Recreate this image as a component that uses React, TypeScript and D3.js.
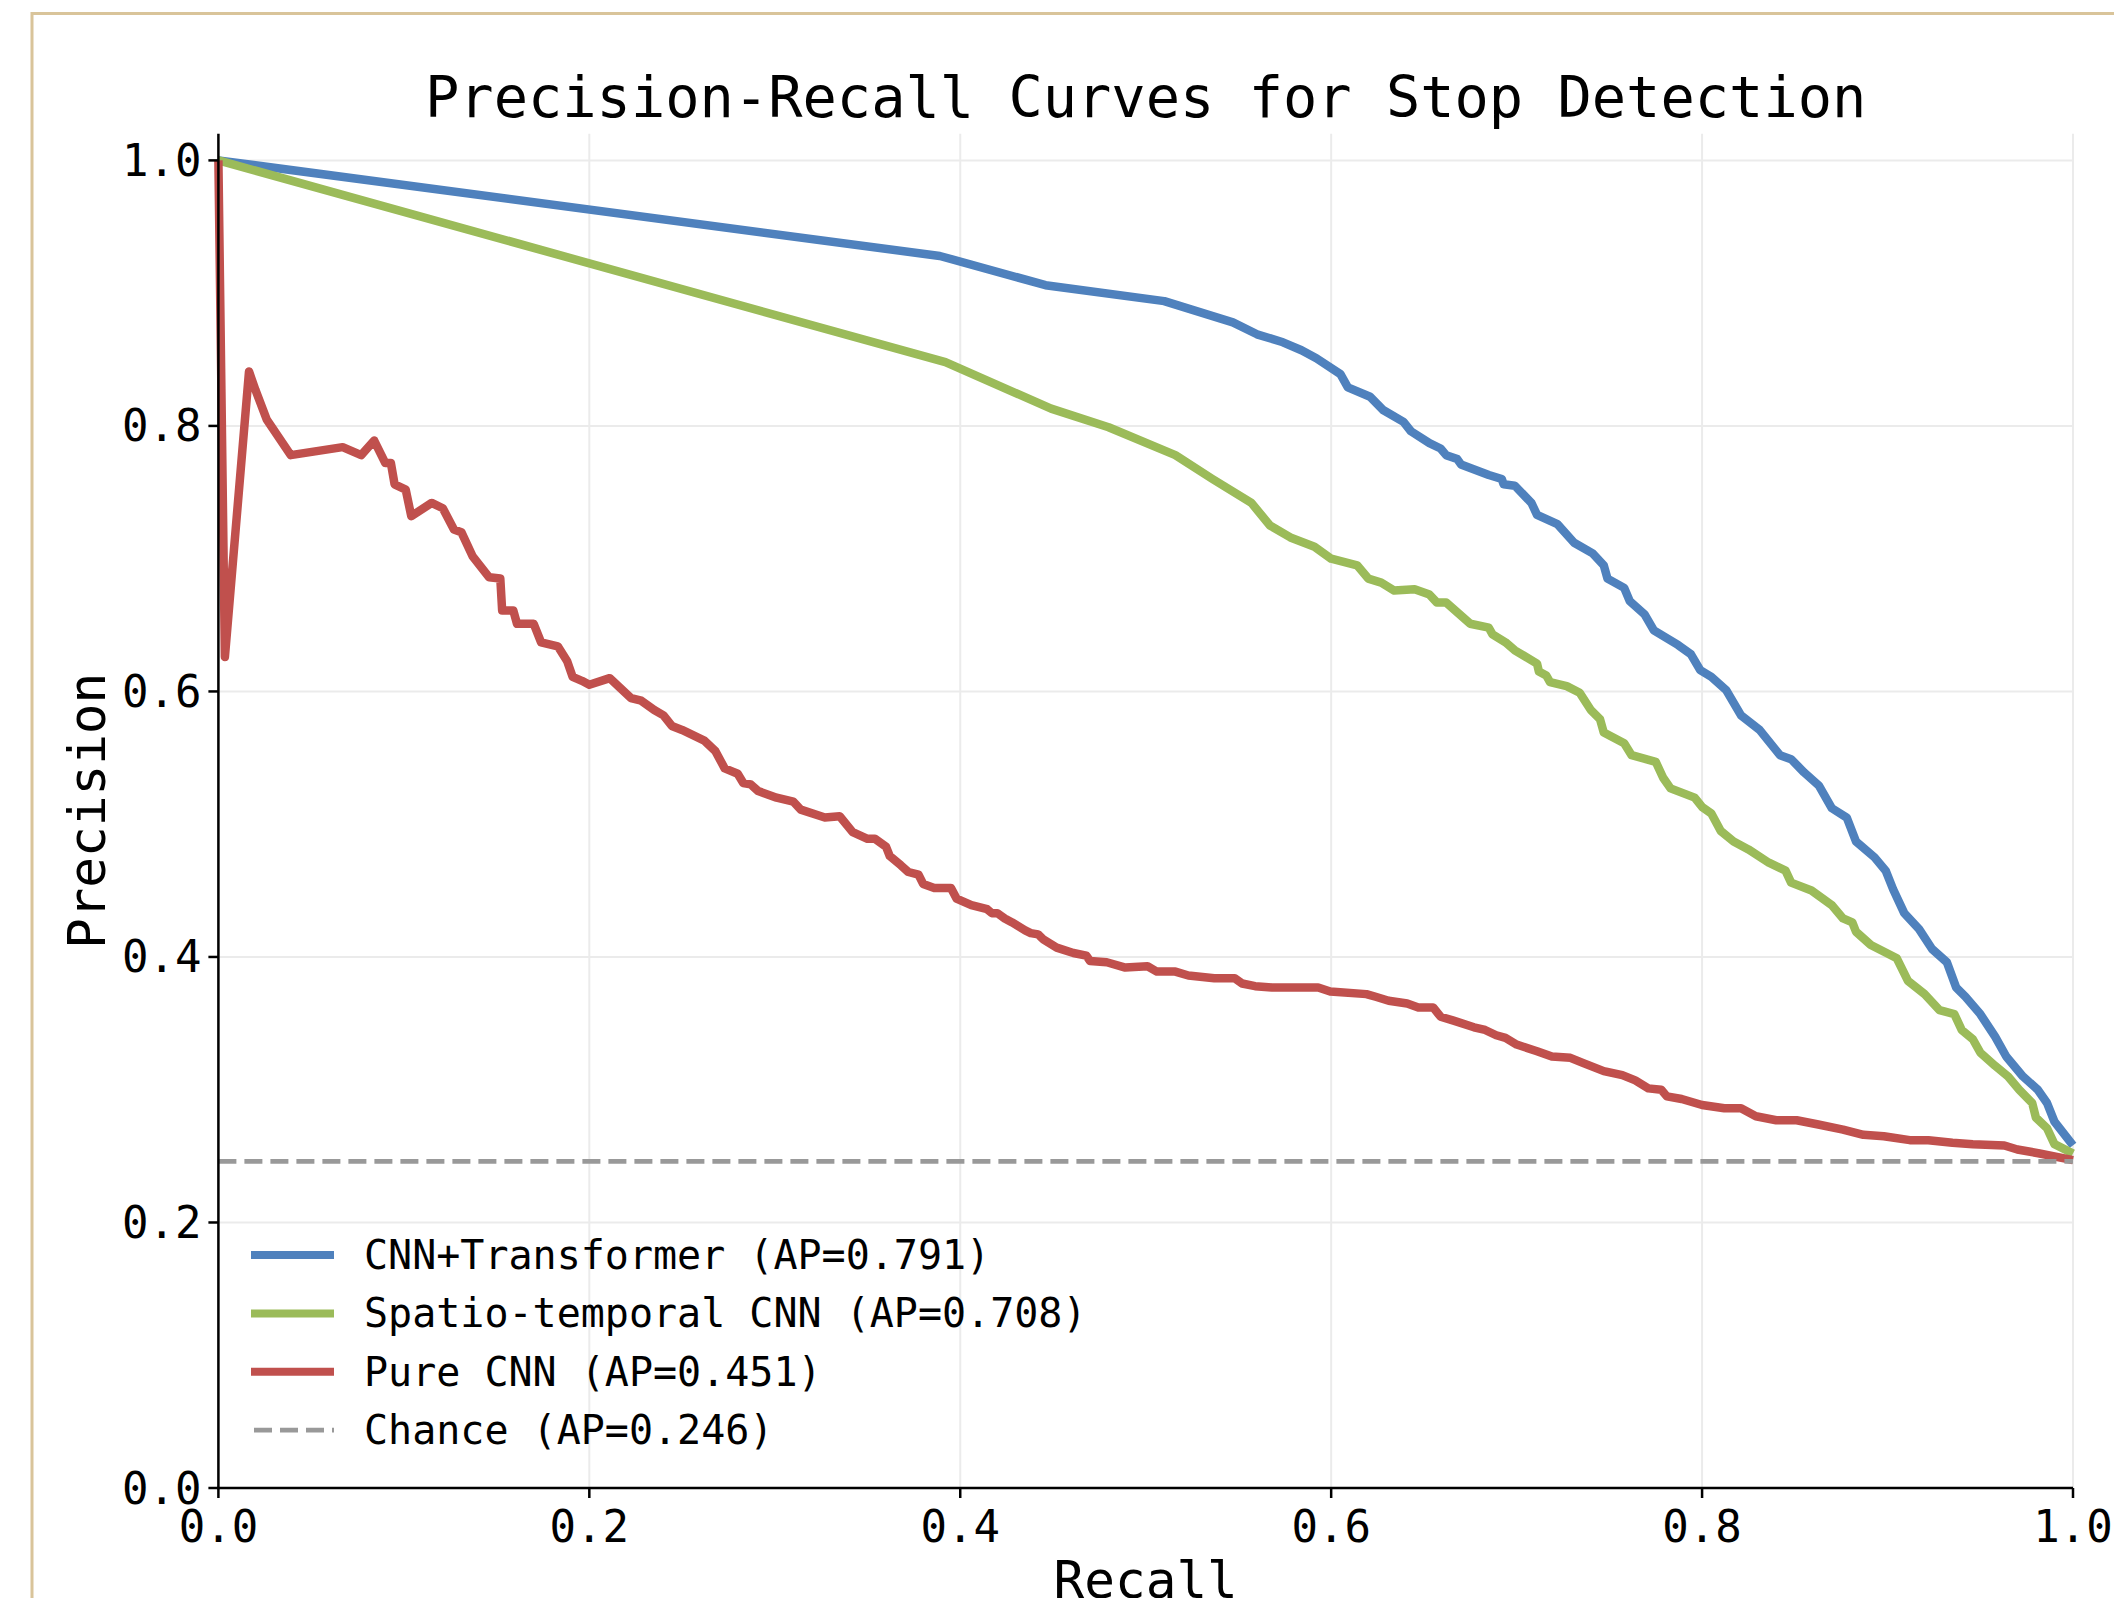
import React from "react";
import * as d3 from "d3";

const TITLE = "Precision-Recall Curves for Stop Detection";
const X_LABEL = "Recall";
const Y_LABEL = "Precision";
const X_TICKS = [0, 0.2, 0.4, 0.6, 0.8, 1.0];
const Y_TICKS = [0, 0.2, 0.4, 0.6, 0.8, 1.0];

const SERIES_NAMES = [
  "CNN+Transformer (AP=0.791)",
  "Spatio-temporal CNN (AP=0.708)",
  "Pure CNN (AP=0.451)",
];
const CHANCE_NAME = "Chance (AP=0.246)";
const CHANCE_LEVEL = 0.246;

const cnnTransformer: [number, number][] = [
  [0, 1.0], [0.389, 0.928], [0.446, 0.906], [0.51, 0.894], [0.547, 0.878], [0.56, 0.869],
  [0.574, 0.863], [0.584, 0.857], [0.592, 0.851], [0.605, 0.839], [0.609, 0.829], [0.621, 0.822],
  [0.628, 0.812], [0.639, 0.803], [0.643, 0.796], [0.653, 0.787], [0.659, 0.783], [0.662, 0.778],
  [0.668, 0.775], [0.67, 0.771], [0.685, 0.763], [0.692, 0.76], [0.693, 0.756], [0.699, 0.755],
  [0.708, 0.742], [0.711, 0.733], [0.722, 0.726], [0.731, 0.712], [0.741, 0.704], [0.747, 0.695],
  [0.749, 0.685], [0.758, 0.678], [0.761, 0.668], [0.769, 0.658], [0.774, 0.646], [0.787, 0.635],
  [0.794, 0.628], [0.799, 0.616], [0.805, 0.611], [0.813, 0.601], [0.821, 0.582], [0.831, 0.571],
  [0.842, 0.552], [0.848, 0.549], [0.855, 0.539], [0.863, 0.529], [0.87, 0.512], [0.878, 0.505],
  [0.883, 0.487], [0.893, 0.475], [0.899, 0.465], [0.903, 0.451], [0.909, 0.433], [0.917, 0.421],
  [0.924, 0.406], [0.932, 0.396], [0.937, 0.377], [0.942, 0.37], [0.95, 0.357], [0.958, 0.34],
  [0.964, 0.325], [0.973, 0.31], [0.981, 0.3], [0.986, 0.29], [0.99, 0.276], [1.0, 0.258],
];

const spatioTemporal: [number, number][] = [
  [0, 1.0], [0.392, 0.848], [0.449, 0.813], [0.48, 0.799], [0.516, 0.778], [0.536, 0.76],
  [0.557, 0.742], [0.567, 0.725], [0.578, 0.716], [0.591, 0.709], [0.6, 0.7], [0.614, 0.695],
  [0.62, 0.685], [0.627, 0.682], [0.634, 0.676], [0.645, 0.677], [0.653, 0.673], [0.657, 0.667],
  [0.662, 0.667], [0.675, 0.651], [0.685, 0.648], [0.687, 0.643], [0.694, 0.637], [0.699, 0.631],
  [0.711, 0.621], [0.712, 0.615], [0.716, 0.612], [0.718, 0.607], [0.727, 0.604], [0.734, 0.599],
  [0.74, 0.586], [0.745, 0.579], [0.747, 0.569], [0.758, 0.561], [0.762, 0.552], [0.775, 0.547],
  [0.779, 0.535], [0.783, 0.527], [0.796, 0.52], [0.8, 0.513], [0.805, 0.508], [0.81, 0.495],
  [0.817, 0.487], [0.825, 0.481], [0.836, 0.471], [0.845, 0.465], [0.848, 0.456], [0.859, 0.45],
  [0.87, 0.439], [0.876, 0.429], [0.881, 0.426], [0.883, 0.419], [0.891, 0.409], [0.905, 0.399],
  [0.911, 0.382], [0.92, 0.372], [0.928, 0.36], [0.936, 0.357], [0.94, 0.345], [0.946, 0.338],
  [0.95, 0.328], [0.958, 0.318], [0.965, 0.31], [0.971, 0.3], [0.978, 0.29], [0.98, 0.279],
  [0.986, 0.271], [0.99, 0.259], [1.0, 0.252],
];

const pureCnn: [number, number][] = [
  [0, 1.0], [0.0035, 0.626], [0.0165, 0.841], [0.02, 0.827], [0.026, 0.805], [0.039, 0.778],
  [0.053, 0.781], [0.067, 0.784], [0.077, 0.778], [0.084, 0.789], [0.09, 0.772], [0.093, 0.772],
  [0.095, 0.756], [0.101, 0.752], [0.104, 0.732], [0.115, 0.742], [0.121, 0.738], [0.127, 0.722],
  [0.131, 0.72], [0.137, 0.702], [0.146, 0.686], [0.152, 0.685], [0.153, 0.661], [0.159, 0.661],
  [0.161, 0.651], [0.17, 0.651], [0.174, 0.637], [0.183, 0.634], [0.188, 0.623], [0.191, 0.611],
  [0.196, 0.608], [0.2, 0.605], [0.211, 0.61], [0.2225, 0.595], [0.228, 0.593], [0.235, 0.586],
  [0.24, 0.582], [0.2445, 0.574], [0.25, 0.571], [0.262, 0.563], [0.268, 0.555], [0.273, 0.542],
  [0.28, 0.538], [0.283, 0.531], [0.287, 0.53], [0.291, 0.525], [0.301, 0.52], [0.31, 0.517],
  [0.314, 0.511], [0.327, 0.505], [0.335, 0.506], [0.342, 0.494], [0.35, 0.489], [0.354, 0.489],
  [0.36, 0.483], [0.362, 0.476], [0.368, 0.469], [0.372, 0.464], [0.3775, 0.462], [0.38, 0.455],
  [0.386, 0.452], [0.395, 0.452], [0.398, 0.444], [0.406, 0.439], [0.4145, 0.436], [0.417, 0.433],
  [0.42, 0.433], [0.424, 0.429], [0.428, 0.426], [0.435, 0.42], [0.438, 0.418], [0.442, 0.417],
  [0.445, 0.413], [0.452, 0.407], [0.461, 0.403], [0.468, 0.401], [0.47, 0.397], [0.479, 0.396],
  [0.489, 0.392], [0.501, 0.393], [0.506, 0.389], [0.516, 0.389], [0.523, 0.386], [0.537, 0.384],
  [0.548, 0.384], [0.552, 0.38], [0.559, 0.378], [0.568, 0.377], [0.593, 0.377], [0.5995, 0.374],
  [0.619, 0.372], [0.624, 0.37], [0.631, 0.367], [0.641, 0.365], [0.647, 0.362], [0.655, 0.362],
  [0.659, 0.355], [0.666, 0.352], [0.677, 0.347], [0.683, 0.345], [0.689, 0.341], [0.694, 0.339],
  [0.7, 0.334], [0.711, 0.329], [0.719, 0.325], [0.729, 0.324], [0.736, 0.32], [0.747, 0.314],
  [0.757, 0.311], [0.764, 0.307], [0.771, 0.301], [0.778, 0.3], [0.781, 0.295], [0.789, 0.293],
  [0.8, 0.2885], [0.812, 0.286], [0.821, 0.286], [0.829, 0.28], [0.84, 0.277], [0.851, 0.277],
  [0.862, 0.274], [0.876, 0.27], [0.887, 0.266], [0.898, 0.265], [0.912, 0.262], [0.922, 0.262],
  [0.935, 0.26], [0.946, 0.259], [0.963, 0.258], [0.97, 0.255], [0.982, 0.252], [1.0, 0.247],
];

const SERIES = [cnnTransformer, spatioTemporal, pureCnn];
const COLORS = ["#4f81bd", "#9bbb59", "#c0504d"];
const CHANCE_COLOR = "#999999";

const W = 2114;
const H = 1598;
const FONT = "'DejaVu Sans Mono', 'Liberation Mono', monospace";

export default function App() {
  const left = 218.4;
  const right = 2073;
  const bottom = 1488;
  const yTop1 = 160.4;
  const x = d3.scaleLinear().domain([0, 1]).range([left, right]);
  const y = d3.scaleLinear().domain([0, 1]).range([bottom, yTop1]);
  const top = y(1.02);
  const line = d3
    .line<[number, number]>()
    .x((d) => x(d[0]))
    .y((d) => y(d[1]));
  const fmt = d3.format(".1f");

  const legendX0 = 251;
  const legendX1 = 334;
  const legendTextX = 364;
  const legendY0 = 1255;
  const legendDy = 58.4;

  return (
    <svg
      width={W}
      height={H}
      style={{ position: "absolute", left: 0, top: 0, display: "block", background: "#fff" }}
      fontFamily={FONT}
    >
      <rect x={0} y={0} width={W} height={H} fill="#ffffff" />
      <rect x={32} y={13.5} width={W + 200} height={H + 200} fill="none" stroke="#d9c49a" strokeWidth={3} />

      {/* grid */}
      <g stroke="#ebebeb" strokeWidth={2}>
        {X_TICKS.map((t) => (
          <line key={"gx" + t} x1={x(t)} x2={x(t)} y1={top} y2={bottom} />
        ))}
        {Y_TICKS.map((t) => (
          <line key={"gy" + t} x1={left} x2={right} y1={y(t)} y2={y(t)} />
        ))}
      </g>

      {/* curves */}
      {SERIES.map((s, i) => (
        <path
          key={"s" + i}
          d={line(s) || ""}
          fill="none"
          stroke={COLORS[i]}
          strokeWidth={8.5}
          strokeLinejoin="round"
          strokeLinecap="butt"
        />
      ))}
      <line
        x1={x(0)}
        x2={x(1)}
        y1={y(CHANCE_LEVEL)}
        y2={y(CHANCE_LEVEL)}
        stroke={CHANCE_COLOR}
        strokeWidth={4.8}
        strokeDasharray="18,8"
      />

      {/* spines */}
      <line x1={left} x2={left} y1={top} y2={bottom + 1.2} stroke="#000" strokeWidth={2.5} />
      <line x1={left - 1.2} x2={right} y1={bottom} y2={bottom} stroke="#000" strokeWidth={2.5} />

      {/* y ticks */}
      {Y_TICKS.map((t) => (
        <g key={"yt" + t}>
          <line x1={left - 10} x2={left} y1={y(t)} y2={y(t)} stroke="#000" strokeWidth={2.5} />
          <text
            x={left - 17}
            y={y(t)}
            textAnchor="end"
            dominantBaseline="central"
            fontSize={44}
            fill="#000"
          >
            {fmt(t)}
          </text>
        </g>
      ))}

      {/* x ticks */}
      {X_TICKS.map((t) => (
        <g key={"xt" + t}>
          <line x1={x(t)} x2={x(t)} y1={bottom} y2={bottom + 10} stroke="#000" strokeWidth={2.5} />
          <text x={x(t)} y={bottom + 54} textAnchor="middle" fontSize={44} fill="#000">
            {fmt(t)}
          </text>
        </g>
      ))}

      {/* axis labels */}
      <text x={(left + right) / 2} y={1598} textAnchor="middle" fontSize={51} fill="#000">
        {X_LABEL}
      </text>
      <text
        transform={`translate(105, ${(top + bottom) / 2}) rotate(-90)`}
        textAnchor="middle"
        fontSize={51}
        fill="#000"
      >
        {Y_LABEL}
      </text>

      {/* title */}
      <text x={(left + right) / 2} y={117} textAnchor="middle" fontSize={57} fill="#000">
        {TITLE}
      </text>

      {/* legend */}
      {SERIES_NAMES.map((name, i) => (
        <g key={"lg" + i}>
          <line
            x1={legendX0}
            x2={legendX1}
            y1={legendY0 + i * legendDy}
            y2={legendY0 + i * legendDy}
            stroke={COLORS[i]}
            strokeWidth={8}
          />
          <text
            x={legendTextX}
            y={legendY0 + i * legendDy}
            dominantBaseline="central"
            fontSize={40}
            fill="#000"
          >
            {name}
          </text>
        </g>
      ))}
      <line
        x1={legendX0 + 3}
        x2={legendX1}
        y1={legendY0 + 3 * legendDy}
        y2={legendY0 + 3 * legendDy}
        stroke={CHANCE_COLOR}
        strokeWidth={4.8}
        strokeDasharray="18,8"
      />
      <text
        x={legendTextX}
        y={legendY0 + 3 * legendDy}
        dominantBaseline="central"
        fontSize={40}
        fill="#000"
      >
        {CHANCE_NAME}
      </text>
    </svg>
  );
}
